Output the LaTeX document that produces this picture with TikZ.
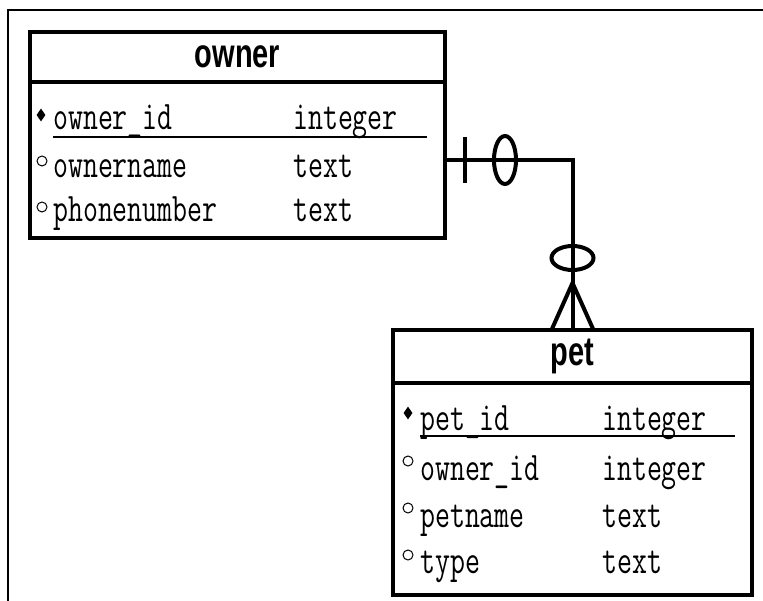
\documentclass[tikz,border=0pt]{standalone}
\usepackage{fontspec}
\setmainfont{Liberation Sans}
\usepackage{graphicx}
\usetikzlibrary{positioning,calc,shapes.geometric}

\newcommand{\tallt}[1]{\scalebox{1}[1.4]{#1}}

\begin{document}
\begin{tikzpicture}[
  x=1pt, y=-1pt,
  tbl/.style={draw, line width=4pt, outer sep=0pt, inner sep=0pt, minimum width=#1},
  head/.style={tbl=#1, font=\bfseries\fontsize{29}{32}\selectfont},
  col/.style={anchor=base west, inner sep=0pt, font=\ttfamily\fontsize{29}{29}\selectfont},
  pk/.style={diamond, fill, inner sep=0pt, minimum width=9pt, minimum height=13pt},
  fk/.style={circle, draw, line width=1pt, inner sep=0pt, minimum size=10pt},
  conn/.style={line width=4pt},
  keyline/.style={line width=1.5pt}
]
  \useasboundingbox (0,0) rectangle (763,601);
  \draw[line width=2pt] (8,601) -- (8,10) -- (763,10);

  % owner table
  \node[head=415pt, minimum height=50pt] (ownerhead) at (237.5,57) {\tallt{owner}};
  \node[tbl=415pt, minimum height=156pt, below=0pt of ownerhead] (ownerbody) {};
  \node[pk] (ownerpk) at (41,115) {};
  \node[col] (ownerid) at (53,130) {\tallt{owner\_id}};
  \node[col] (owneridt) at (293,130) {\tallt{integer}};
  \draw[keyline] (53,137) -- (427,137);
  \node[fk] (ownerfk1) at (42,161) {};
  \node[col] (ownername) at (53,178) {\tallt{ownername}};
  \node[col] (ownernamet) at (293,178) {\tallt{text}};
  \node[fk] (ownerfk2) at (42,207) {};
  \node[col] (ownerphone) at (53,222) {\tallt{phonenumber}};
  \node[col] (ownerphonet) at (293,222) {\tallt{text}};

  % pet table
  \node[head=359pt, minimum height=53pt] (pethead) at (572.5,356.5) {\tallt{pet}};
  \node[tbl=359pt, minimum height=212pt, below=0pt of pethead] (petbody) {};
  \node[pk] (petpk) at (408,413) {};
  \node[col] (petid) at (420,430) {\tallt{pet\_id}};
  \node[col] (petidt) at (602,430) {\tallt{integer}};
  \draw[keyline] (420,436) -- (735,436);
  \node[fk] (petfk1) at (408,461) {};
  \node[col] (petowner) at (420,480) {\tallt{owner\_id}};
  \node[col] (petownert) at (602,480) {\tallt{integer}};
  \node[fk] (petfk2) at (408,508) {};
  \node[col] (petname) at (420,527) {\tallt{petname}};
  \node[col] (petnamet) at (602,527) {\tallt{text}};
  \node[fk] (petfk3) at (408,555) {};
  \node[col] (pettype) at (420,573) {\tallt{type}};
  \node[col] (pettypet) at (602,573) {\tallt{text}};

  % relationship
  \draw[conn] (ownerbody.east) -| (pethead.north);
  \draw[conn] ($(ownerbody.east)+(20,-23)$) -- ++(0,46);
  \draw[conn] ($(ownerbody.east)+(60,0)$) ellipse (11 and 24);
  \draw[conn] ($(pethead.north)+(0,-72)$) ellipse (21 and 12);
  \draw[conn] ($(pethead.north)+(-21,0)$) -- ($(pethead.north)+(0,-47)$) -- ($(pethead.north)+(21,0)$);
\end{tikzpicture}
\end{document}
